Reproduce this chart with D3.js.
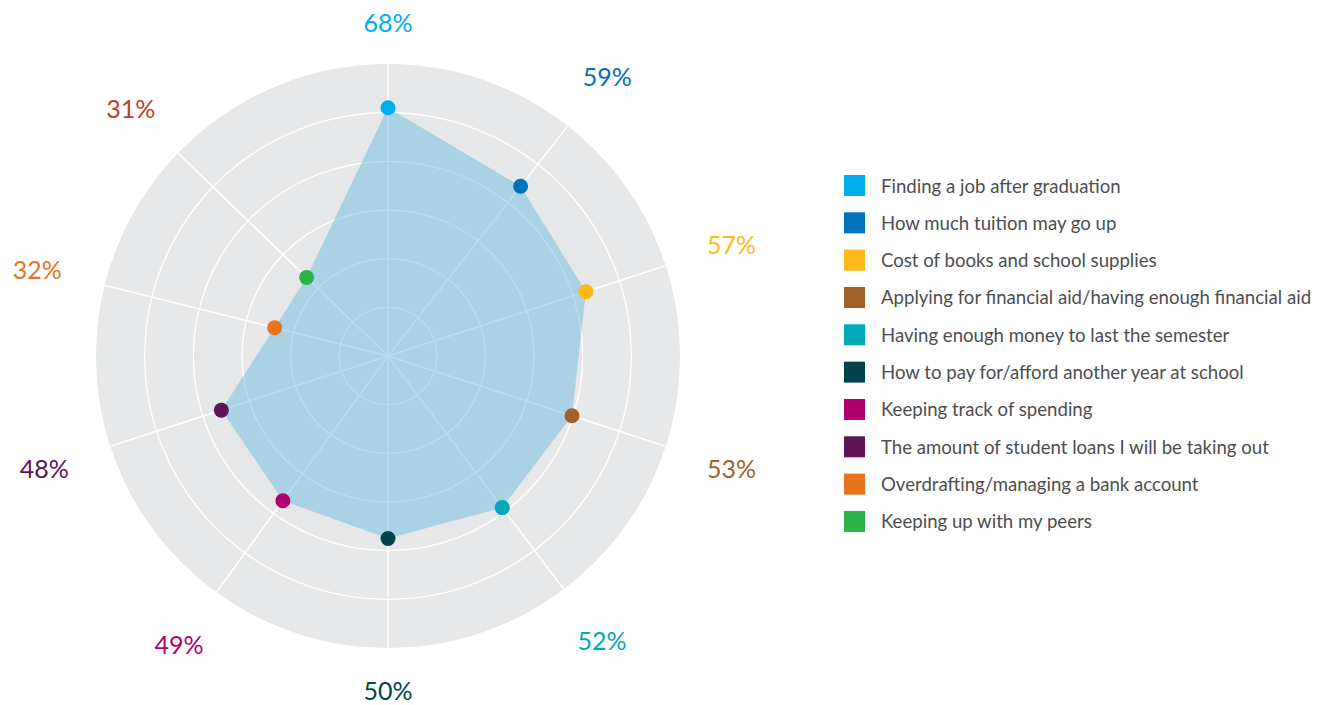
<!DOCTYPE html>
<html>
<head>
<meta charset="utf-8">
<script src="https://cdn.jsdelivr.net/npm/d3@7"></script>
<style>
  body { margin: 0; background: #fff; }
  svg text { font-family: Lato, "Open Sans", sans-serif; }
</style>
</head>
<body>
<div id="chart"></div>
<script>
/* Radar chart: student money worries */

const categories = [
  "Finding a job after graduation",
  "How much tuition may go up",
  "Cost of books and school supplies",
  "Applying for financial aid/having enough financial aid",
  "Having enough money to last the semester",
  "How to pay for/afford another year at school",
  "Keeping track of spending",
  "The amount of student loans I will be taking out",
  "Overdrafting/managing a bank account",
  "Keeping up with my peers"
];
const values = [68, 59, 57, 53, 52, 50, 49, 48, 32, 31];
const colors = ["#00aeef", "#0071bc", "#fdb917", "#a0612a", "#00a9b7",
  "#00434d", "#b0006d", "#5e1356", "#e8731f", "#2db24a"];
// the 31% label is printed in a rust tone, not the green of its dot
const labelColors = ["#00aeef", "#0071bc", "#fdb917", "#a0612a", "#00a9b7",
  "#00434d", "#b0006d", "#5e1356", "#e8731f", "#b5462a"];

const width = 1326,
  height = 705,
  cx = 388, cy = 356,
  radius = 292;

// axis directions (degrees clockwise from 12 o'clock) as drawn in the reference
const axisDeg = [0, 38, 72, 108, 143, 180, 216, 252, 284, 314];

const svg = d3.select("#chart")
  .append("svg")
  .attr("width", width)
  .attr("height", height)
  .attr("viewBox", [0, 0, width, height]);

const r = d3.scaleLinear()
  .domain([0, 80])
  .range([0, radius]);

const angle = i => axisDeg[i] * Math.PI / 180;

const g = svg.append("g")
  .attr("transform", `translate(${cx},${cy})`);

// background disc
g.append("circle")
  .attr("r", radius)
  .attr("fill", "#e6e7e8");

// rings
const rings = d3.range(1, 6).map(i => i * 80 / 6);
g.selectAll(".ring")
  .data(rings)
  .join("circle")
  .attr("class", "ring")
  .attr("r", d => r(d))
  .attr("fill", "none")
  .attr("stroke", "#fff")
  .attr("stroke-width", 1.3);

// spokes
g.selectAll(".spoke")
  .data(categories)
  .join("line")
  .attr("class", "spoke")
  .attr("x1", 0).attr("y1", 0)
  .attr("x2", (d, i) => radius * Math.sin(angle(i)))
  .attr("y2", (d, i) => -radius * Math.cos(angle(i)))
  .attr("stroke", "#fff")
  .attr("stroke-width", 1.5);

// filled area
const area = d3.lineRadial()
  .angle((d, i) => angle(i))
  .radius(d => r(d))
  .curve(d3.curveLinearClosed);

g.append("path")
  .datum(values)
  .attr("d", area)
  .attr("fill", "#6cc0e0")
  .attr("fill-opacity", 0.5);

// dots
g.selectAll(".dot")
  .data(values)
  .join("circle")
  .attr("class", "dot")
  .attr("cx", (d, i) => r(d) * Math.sin(angle(i)))
  .attr("cy", (d, i) => -r(d) * Math.cos(angle(i)))
  .attr("r", 7.5)
  .attr("fill", (d, i) => colors[i]);

// percentage labels round the outside, pushed further out at the sides
const labelR = i => 334 + 28 * Math.sqrt(Math.abs(Math.sin(angle(i))));

g.selectAll(".pct")
  .data(values)
  .join("text")
  .attr("class", "pct")
  .attr("x", (d, i) => labelR(i) * Math.sin(angle(i)))
  .attr("y", (d, i) => -labelR(i) * Math.cos(angle(i)))
  .attr("text-anchor", "middle")
  .attr("dominant-baseline", "central")
  .attr("font-size", 25)
  .attr("fill", (d, i) => labelColors[i])
  .text(d => d + "%");

// legend
const legend = svg.append("g")
  .attr("transform", "translate(844,175)");

const row = d3.scaleBand()
  .domain(d3.range(categories.length))
  .range([0, 37.33 * categories.length]);

const item = legend.selectAll(".item")
  .data(categories)
  .join("g")
  .attr("class", "item")
  .attr("transform", (d, i) => `translate(0,${row(i)})`);

item.append("rect")
  .attr("width", 21)
  .attr("height", 21)
  .attr("fill", (d, i) => colors[i]);

item.append("text")
  .attr("x", 37)
  .attr("y", 10.5)
  .attr("dominant-baseline", "central")
  .attr("font-size", 18.6)
  .attr("fill", "#4d4d4f")
  .text(d => d);
</script>
</body>
</html>
